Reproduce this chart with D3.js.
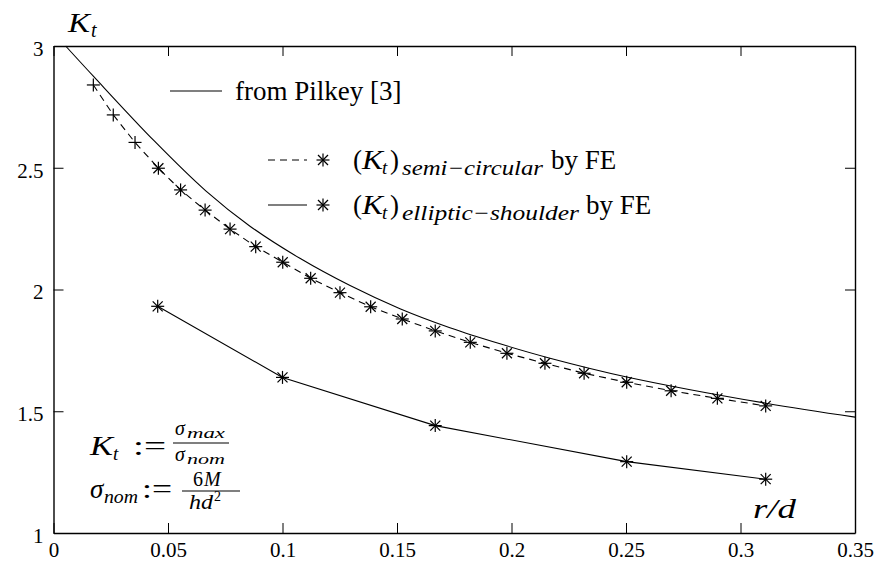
<!DOCTYPE html>
<html>
<head>
<meta charset="utf-8">
<script src="https://cdn.jsdelivr.net/npm/d3@7"></script>
<style>
  html, body { margin: 0; padding: 0; background: #fff; }
  svg { display: block; }
</style>
</head>
<body>
<svg id="chart" width="879" height="568"></svg>
<script>
// ---- data ----
const xTickValues = [0, 0.05, 0.1, 0.15, 0.2, 0.25, 0.3, 0.35];
const xTickLabels = ["0", "0.05", "0.1", "0.15", "0.2", "0.25", "0.3", "0.35"];
const yTickValues = [1, 1.5, 2, 2.5, 3];
const yTickLabels = ["1", "1.5", "2", "2.5", "3"];

const pilkeyR = [0.0053, 0.0177, 0.0439, 0.0665, 0.0858, 0.1076, 0.1295, 0.1513, 0.1731, 0.195, 0.2168, 0.2503, 0.311, 0.35];
const pilkeyK = [3.0, 2.873, 2.611, 2.405, 2.260, 2.128, 2.016, 1.921, 1.843, 1.777, 1.718, 1.641, 1.533, 1.476];

const semiR = [0.0174, 0.0261, 0.0356, 0.0458, 0.0555, 0.0662, 0.0771, 0.0883, 0.1001, 0.1123, 0.1251, 0.1385, 0.1523, 0.1667, 0.1820, 0.1980, 0.2146, 0.2317, 0.2503, 0.2697, 0.2899, 0.3110];
const semiK = [2.840, 2.717, 2.604, 2.498, 2.409, 2.326, 2.248, 2.176, 2.112, 2.046, 1.987, 1.929, 1.879, 1.830, 1.783, 1.738, 1.697, 1.656, 1.619, 1.584, 1.553, 1.522];
const semiMarker = ["plus", "plus", "plus", "star", "star", "star", "star", "star", "star", "star", "star", "star", "star", "star", "star", "star", "star", "star", "star", "star", "star", "star"];

const ellR = [0.0455, 0.1, 0.1667, 0.2503, 0.311];
const ellK = [1.931, 1.639, 1.441, 1.293, 1.221];

// ---- layout ----
const FONT = "Liberation Serif";
const svg = d3.select("#chart");
const L = 53.5, R = 855, T = 46, B = 533;
const x = d3.scaleLinear().domain([0, 0.35]).range([L, R]);
const y = d3.scaleLinear().domain([1, 3]).range([B, T]);

function styleAxis(g) {
  g.attr("font-family", FONT).attr("font-size", 21);
  g.selectAll("path.domain").attr("stroke", "#000").attr("stroke-width", 1.4);
  g.selectAll(".tick line").attr("stroke", "#000").attr("stroke-width", 1);
}

// bottom axis
svg.append("g").attr("transform", `translate(0,${B})`)
  .call(d3.axisBottom(x).tickValues(xTickValues).tickFormat((d, i) => xTickLabels[i])
        .tickSizeInner(-10).tickSizeOuter(0).tickPadding(9))
  .call(styleAxis);
// top axis
svg.append("g").attr("transform", `translate(0,${T})`)
  .call(d3.axisTop(x).tickValues(xTickValues).tickFormat("")
        .tickSizeInner(-10).tickSizeOuter(0))
  .call(styleAxis);
// left axis
svg.append("g").attr("transform", `translate(${L},0)`)
  .call(d3.axisLeft(y).tickValues(yTickValues).tickFormat((d, i) => yTickLabels[i])
        .tickSizeInner(-10).tickSizeOuter(0).tickPadding(10))
  .call(styleAxis)
  .call(g => g.selectAll(".tick text").attr("dy", "0.45em"));
// right axis
svg.append("g").attr("transform", `translate(${R},0)`)
  .call(d3.axisRight(y).tickValues(yTickValues).tickFormat("")
        .tickSizeInner(-10).tickSizeOuter(0))
  .call(styleAxis);

// ---- series ----
const plot = svg.append("g");

const pilkeyData = pilkeyR.map((r, i) => [r, pilkeyK[i]]);
const semiData = semiR.map((r, i) => [r, semiK[i], semiMarker[i]]);
const ellData = ellR.map((r, i) => [r, ellK[i]]);

const smooth = d3.line().x(d => x(d[0])).y(d => y(d[1])).curve(d3.curveCatmullRom.alpha(0.5));
const straight = d3.line().x(d => x(d[0])).y(d => y(d[1]));

plot.append("path").datum(pilkeyData).attr("d", smooth)
  .attr("fill", "none").attr("stroke", "#000").attr("stroke-width", 1.1);
plot.append("path").datum(semiData).attr("d", straight)
  .attr("fill", "none").attr("stroke", "#000").attr("stroke-width", 1.1).attr("stroke-dasharray", "7,5");
plot.append("path").datum(ellData).attr("d", straight)
  .attr("fill", "none").attr("stroke", "#000").attr("stroke-width", 1.1);

function marker(g, cx, cy, type) {
  const a = 6.5, b = 5;
  const segs = [[cx - a, cy, cx + a, cy], [cx, cy - a, cx, cy + a]];
  if (type === "star") segs.push([cx - b, cy - b, cx + b, cy + b], [cx - b, cy + b, cx + b, cy - b]);
  segs.forEach(s => g.append("line").attr("x1", s[0]).attr("y1", s[1]).attr("x2", s[2]).attr("y2", s[3])
    .attr("stroke", "#000").attr("stroke-width", 1.2));
}
const mk = svg.append("g");
semiData.forEach(d => marker(mk, x(d[0]), y(d[1]), d[2]));
ellData.forEach(d => marker(mk, x(d[0]), y(d[1]), "star"));

// ---- text helper ----
function txt(parent, tx, ty, str, size, opts = {}) {
  const t = parent.append("text").attr("x", tx).attr("y", ty)
    .attr("font-family", FONT).attr("font-size", size);
  if (opts.italic) t.attr("font-style", "italic");
  if (opts.anchor) t.attr("text-anchor", opts.anchor);
  if (opts.len) t.attr("textLength", opts.len).attr("lengthAdjust", "spacingAndGlyphs");
  t.text(str);
  return t;
}

// ---- legend ----
const lg = svg.append("g");
lg.append("line").attr("x1", 170).attr("x2", 222).attr("y1", 91).attr("y2", 91).attr("stroke", "#000").attr("stroke-width", 1.1);
txt(lg, 235, 100, "from Pilkey [3]", 27);

function ktLegend(by, sub, subLen, byX) {
  txt(lg, 353, by, "(", 27);
  txt(lg, 362, by, "K", 27, { italic: true, len: 21 });
  txt(lg, 382, by + 5, "t", 19, { italic: true });
  txt(lg, 390, by, ")", 27);
  txt(lg, 402, by + 6, sub, 21, { italic: true, len: subLen });
  txt(lg, byX, by, "by FE", 27);
}
lg.append("line").attr("x1", 268).attr("x2", 307).attr("y1", 160).attr("y2", 160).attr("stroke", "#000").attr("stroke-width", 1.1).attr("stroke-dasharray", "7,5");
marker(lg, 323, 160, "star");
ktLegend(169, "semi\u2212circular", 141, 551);

lg.append("line").attr("x1", 268).attr("x2", 307).attr("y1", 205).attr("y2", 205).attr("stroke", "#000").attr("stroke-width", 1.1);
marker(lg, 323, 205, "star");
ktLegend(214, "elliptic\u2212shoulder", 177, 586);

// ---- axis titles ----
txt(svg, 68, 32, "K", 28, { italic: true, len: 22 });
txt(svg, 91, 37, "t", 20, { italic: true });
txt(svg, 753, 518, "r/d", 28, { italic: true, len: 43 });

// ---- formulas ----
const f = svg.append("g");
txt(f, 90, 455, "K", 27, { italic: true, len: 23 });
txt(f, 113, 460, "t", 19, { italic: true });
txt(f, 133, 455, ":=", 27, { len: 33 });
f.append("line").attr("x1", 173).attr("x2", 229).attr("y1", 443).attr("y2", 443).attr("stroke", "#000").attr("stroke-width", 1.2);
txt(f, 175, 435, "σ", 20, { italic: true });
txt(f, 187, 438, "max", 15, { italic: true, len: 38 });
txt(f, 175, 461, "σ", 20, { italic: true });
txt(f, 187, 464, "nom", 15, { italic: true, len: 38 });

txt(f, 90, 498, "σ", 27, { italic: true });
txt(f, 104, 503, "nom", 19, { italic: true, len: 34 });
txt(f, 142, 498, ":=", 27, { len: 30 });
f.append("line").attr("x1", 182).attr("x2", 240).attr("y1", 491).attr("y2", 491).attr("stroke", "#000").attr("stroke-width", 1.2);
txt(f, 193, 486, "6", 20);
txt(f, 204, 486, "M", 20, { italic: true });
txt(f, 189, 509, "hd", 20, { italic: true, len: 24 });
txt(f, 214, 501, "2", 14);
</script>
</body>
</html>
